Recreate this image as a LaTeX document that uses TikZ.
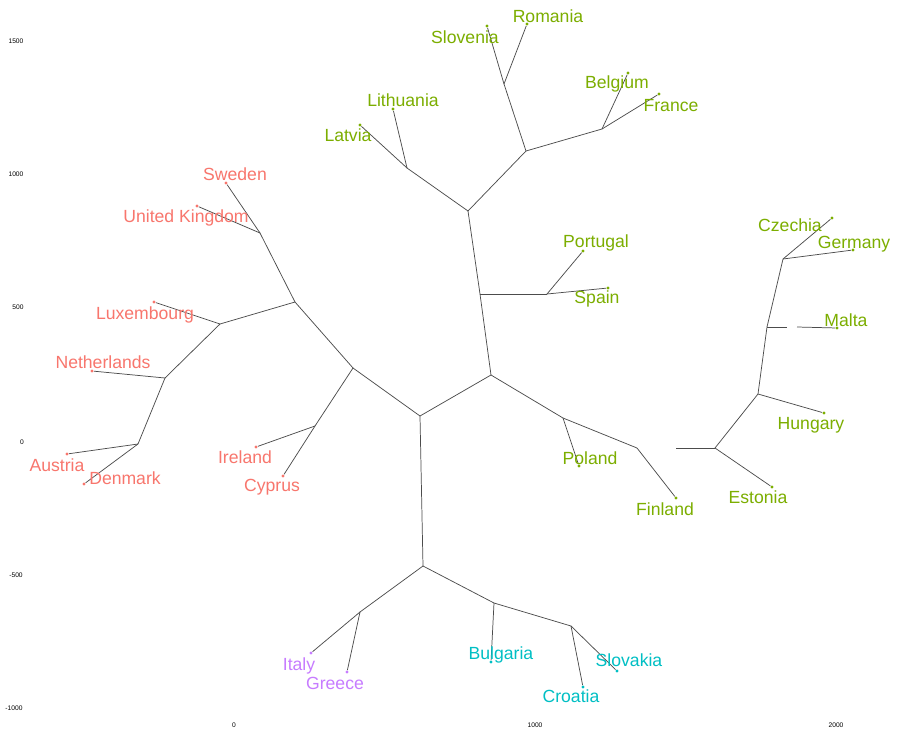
\documentclass[tikz,border=0pt]{standalone}
\usepackage{fontspec}
\setmainfont{Liberation Sans}
\definecolor{cred}{HTML}{F8766D}
\definecolor{cgreen}{HTML}{7CAE00}
\definecolor{ccyan}{HTML}{00BFC4}
\definecolor{cpurple}{HTML}{C77CFF}
\begin{document}
\begin{tikzpicture}[x=0.75pt,y=-0.75pt,
  br/.style={draw=black!70, line width=0.55pt},
  tipdot/.style={circle, fill=#1, inner sep=0pt, minimum size=2.6pt},
  lab/.style={text=#1, font=\fontsize{13.2}{15}\selectfont, inner sep=0pt, text height=9.4pt, text depth=0pt},
  ax/.style={font=\fontsize{5}{6}\selectfont, inner sep=0pt}]
\useasboundingbox[fill=white] (0,0) rectangle (897,732);
% axis labels
\node[ax] (y1500) at (16,41) {1500};
\node[ax] (y1000) at (16,174) {1000};
\node[ax] (y500) at (18,307) {500};
\node[ax] (y0) at (22,442) {0};
\node[ax] (ym500) at (16,575) {-500};
\node[ax] (ym1000) at (14,708) {-1000};
\node[ax] (x0) at (234,725) {0};
\node[ax] (x1000) at (535,725) {1000};
\node[ax] (x2000) at (836,725) {2000};
% internal nodes
\coordinate (A) at (420,416);
\coordinate (B) at (491,375);
\coordinate (C) at (468,211);
\coordinate (D) at (480,294);
\coordinate (E) at (547,294);
\coordinate (F) at (407,168);
\coordinate (G) at (526,151);
\coordinate (H) at (504,84);
\coordinate (I) at (602,129);
\coordinate (J) at (563,418);
\coordinate (K) at (637,448);
\coordinate (Ks) at (676,448);
\coordinate (L) at (715,448);
\coordinate (M) at (758,394);
\coordinate (N) at (767,327);
\coordinate (Na) at (787,327);
\coordinate (Nb) at (797,327);
\coordinate (O) at (783,259);
\coordinate (P) at (353,368);
\coordinate (Q) at (315,426);
\coordinate (R) at (295,302);
\coordinate (S) at (260,233);
\coordinate (T) at (220,324);
\coordinate (U) at (165,378);
\coordinate (V) at (138,444);
\coordinate (W) at (423,566);
\coordinate (X) at (360,612);
\coordinate (Y) at (494,603);
\coordinate (Z) at (571,626);
% tips
\node[tipdot=cgreen] (tPortugal) at (583,251) {};
\node[tipdot=cgreen] (tSpain) at (608,288) {};
\node[tipdot=cgreen] (tLatvia) at (360,125) {};
\node[tipdot=cgreen] (tLithuania) at (393,109) {};
\node[tipdot=cgreen] (tSlovenia) at (487,26) {};
\node[tipdot=cgreen] (tRomania) at (527,24) {};
\node[tipdot=cgreen] (tBelgium) at (628,73) {};
\node[tipdot=cgreen] (tFrance) at (659,94) {};
\node[tipdot=cgreen] (tPoland) at (579,466) {};
\node[tipdot=cgreen] (tFinland) at (676,498) {};
\node[tipdot=cgreen] (tEstonia) at (772,487) {};
\node[tipdot=cgreen] (tHungary) at (824,413) {};
\node[tipdot=cgreen] (tMalta) at (837,328) {};
\node[tipdot=cgreen] (tCzechia) at (832,218) {};
\node[tipdot=cgreen] (tGermany) at (853,250) {};
\node[tipdot=cred] (tIreland) at (256,447) {};
\node[tipdot=cred] (tCyprus) at (283,476) {};
\node[tipdot=cred] (tSweden) at (226,183) {};
\node[tipdot=cred] (tUK) at (197,206) {};
\node[tipdot=cred] (tLuxembourg) at (154,302) {};
\node[tipdot=cred] (tNetherlands) at (92,371) {};
\node[tipdot=cred] (tAustria) at (67,454) {};
\node[tipdot=cred] (tDenmark) at (84,484) {};
\node[tipdot=cpurple] (tItaly) at (311,653) {};
\node[tipdot=cpurple] (tGreece) at (347,672) {};
\node[tipdot=ccyan] (tBulgaria) at (491,662) {};
\node[tipdot=ccyan] (tCroatia) at (583,687) {};
\node[tipdot=ccyan] (tSlovakia) at (617,671) {};
% branches
\draw[br] (A) -- (B);
\draw[br] (B) -- (D) -- (C);
\draw[br] (D) -- (E);
\draw[br] (E) -- (tPortugal);
\draw[br] (E) -- (tSpain);
\draw[br] (C) -- (F);
\draw[br] (F) -- (tLatvia);
\draw[br] (F) -- (tLithuania);
\draw[br] (C) -- (G);
\draw[br] (G) -- (H);
\draw[br] (H) -- (tSlovenia);
\draw[br] (H) -- (tRomania);
\draw[br] (G) -- (I);
\draw[br] (I) -- (tBelgium);
\draw[br] (I) -- (tFrance);
\draw[br] (B) -- (J);
\draw[br] (J) -- (tPoland);
\draw[br] (J) -- (K);
\draw[br] (K) -- (tFinland);
\draw[br] (Ks) -- (L);
\draw[br] (L) -- (tEstonia);
\draw[br] (L) -- (M);
\draw[br] (M) -- (tHungary);
\draw[br] (M) -- (N);
\draw[br] (N) -- (Na);
\draw[br] (Nb) -- (tMalta);
\draw[br] (N) -- (O);
\draw[br] (O) -- (tCzechia);
\draw[br] (O) -- (tGermany);
\draw[br] (A) -- (P);
\draw[br] (P) -- (Q);
\draw[br] (Q) -- (tIreland);
\draw[br] (Q) -- (tCyprus);
\draw[br] (P) -- (R);
\draw[br] (R) -- (S);
\draw[br] (S) -- (tSweden);
\draw[br] (S) -- (tUK);
\draw[br] (R) -- (T);
\draw[br] (T) -- (tLuxembourg);
\draw[br] (T) -- (U);
\draw[br] (U) -- (tNetherlands);
\draw[br] (U) -- (V);
\draw[br] (V) -- (tAustria);
\draw[br] (V) -- (tDenmark);
\draw[br] (A) -- (W);
\draw[br] (W) -- (X);
\draw[br] (X) -- (tItaly);
\draw[br] (X) -- (tGreece);
\draw[br] (W) -- (Y);
\draw[br] (Y) -- (tBulgaria);
\draw[br] (Y) -- (Z);
\draw[br] (Z) -- (tCroatia);
\draw[br] (Z) -- (tSlovakia);
% labels
\node[lab=cgreen] (lRomania) at (548,16) {Romania};
\node[lab=cgreen] (lSlovenia) at (465,37) {Slovenia};
\node[lab=cgreen] (lLithuania) at (403,100) {Lithuania};
\node[lab=cgreen] (lLatvia) at (348,135) {Latvia};
\node[lab=cgreen] (lBelgium) at (617,82) {Belgium};
\node[lab=cgreen] (lFrance) at (671,105) {France};
\node[lab=cgreen] (lPortugal) at (596,241) {Portugal};
\node[lab=cgreen] (lSpain) at (597,297) {Spain};
\node[lab=cgreen] (lCzechia) at (790,225) {Czechia};
\node[lab=cgreen] (lGermany) at (854,242) {Germany};
\node[lab=cgreen] (lMalta) at (846,320) {Malta};
\node[lab=cgreen] (lHungary) at (811,423) {Hungary};
\node[lab=cgreen] (lEstonia) at (758,497) {Estonia};
\node[lab=cgreen] (lPoland) at (590,458) {Poland};
\node[lab=cgreen] (lFinland) at (665,509) {Finland};
\node[lab=cred] (lSweden) at (235,174) {Sweden};
\node[lab=cred] (lUK) at (186,216) {United Kingdom};
\node[lab=cred] (lLuxembourg) at (145,313) {Luxembourg};
\node[lab=cred] (lNetherlands) at (103,362) {Netherlands};
\node[lab=cred] (lAustria) at (57,465) {Austria};
\node[lab=cred] (lDenmark) at (125,478) {Denmark};
\node[lab=cred] (lIreland) at (245,457) {Ireland};
\node[lab=cred] (lCyprus) at (272,485) {Cyprus};
\node[lab=cpurple] (lItaly) at (299,664) {Italy};
\node[lab=cpurple] (lGreece) at (335,683) {Greece};
\node[lab=ccyan] (lBulgaria) at (501,653) {Bulgaria};
\node[lab=ccyan] (lSlovakia) at (629,660) {Slovakia};
\node[lab=ccyan] (lCroatia) at (571,696) {Croatia};
\end{tikzpicture}
\end{document}
